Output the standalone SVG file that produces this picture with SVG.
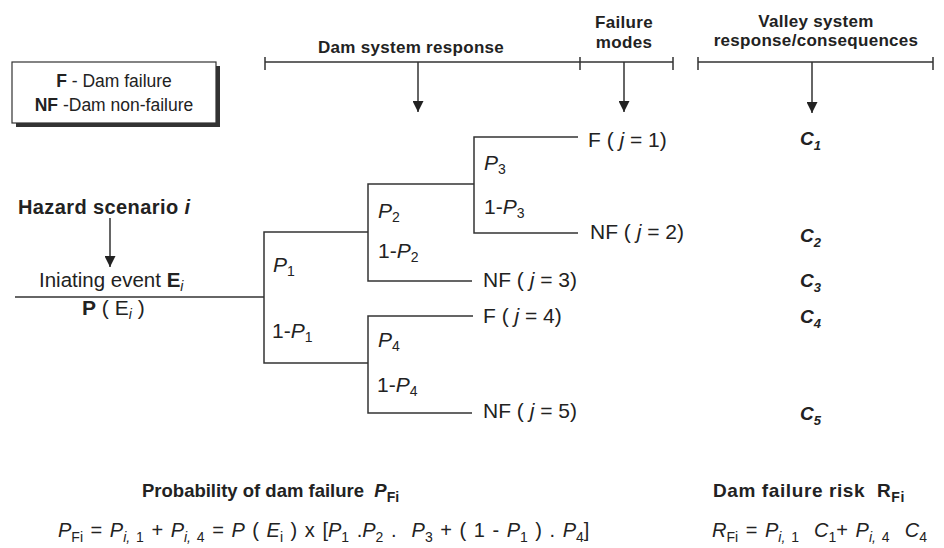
<svg xmlns="http://www.w3.org/2000/svg" width="944" height="548" viewBox="0 0 944 548">
<defs>
<marker id="ah" viewBox="0 0 10 10" refX="10" refY="5" markerWidth="11" markerHeight="11" markerUnits="userSpaceOnUse" orient="auto">
<path d="M0,0 L10,5 L0,10 Z" fill="#222"/>
</marker>
</defs>
<style>
text{font-family:"Liberation Sans",Arial,sans-serif;fill:#222;}
.ln{stroke:#333;stroke-width:1.5;fill:none;}
.arr{stroke:#333;stroke-width:1.5;fill:none;marker-end:url(#ah);}
.hd{font-weight:bold;font-size:17px;letter-spacing:0.3px;}
.lb{font-size:21px;}
.it{font-style:italic;}
.c{font-weight:bold;font-style:italic;font-size:19px;}
.sm{font-size:14px;}
.fm{font-size:20px;word-spacing:2px;}
</style>
<rect width="944" height="548" fill="#fff"/>

<g id="legend">
<rect x="16" y="66" width="204" height="61" fill="#333"/>
<rect x="12" y="62" width="204" height="61" fill="#fff" stroke="#333" stroke-width="1.2"/>
<text x="114" y="87" text-anchor="middle" font-size="17.5"><tspan font-weight="bold">F</tspan> - Dam failure</text>
<text x="114" y="111" text-anchor="middle" font-size="17.5"><tspan font-weight="bold">NF</tspan> -Dam non-failure</text>
</g>

<g id="headers">
<text class="hd" x="411" y="53" text-anchor="middle" font-size="18">Dam system response</text>
<text class="hd" x="624" y="28" text-anchor="middle">Failure</text>
<text class="hd" x="624" y="48" text-anchor="middle">modes</text>
<text class="hd" x="816" y="27" text-anchor="middle">Valley system</text>
<text class="hd" x="816" y="46" text-anchor="middle">response/consequences</text>
</g>

<g id="connectors">
<path class="ln" d="M265,62 H673 M265,57 V70 M580,57 V70 M673,57 V70"/>
<path class="ln" d="M698,62 H933 M698,57 V70 M933,57 V70"/>
<line class="arr" x1="418" y1="62" x2="418" y2="112"/>
<line class="arr" x1="624" y1="62" x2="624" y2="112"/>
<line class="arr" x1="812" y1="62" x2="812" y2="113"/>
<line class="arr" x1="110" y1="218" x2="110" y2="267"/>
<path class="ln" d="M15,297 H264"/>
<path class="ln" d="M368,232 H264 V363 H368"/>
<path class="ln" d="M474,184 H368 V281 H472"/>
<path class="ln" d="M578,137 H474 V233 H578"/>
<path class="ln" d="M473,316 H368 V413 H472"/>
</g>

<g id="hazard">
<text x="18" y="214" font-weight="bold" font-size="20" letter-spacing="0.4">Hazard scenario <tspan font-style="italic">i</tspan></text>
<text x="39" y="287" font-size="20.5">Iniating event <tspan font-weight="bold">E</tspan><tspan class="it sm" dy="4">i</tspan></text>
<text x="82" y="315" font-size="21"><tspan font-weight="bold">P</tspan> ( E<tspan class="it sm" dy="4">i</tspan><tspan dy="-4"> )</tspan></text>
</g>

<g id="branch-labels" class="lb">
<text x="273" y="272"><tspan class="it">P</tspan><tspan class="sm" dy="4">1</tspan></text>
<text x="272" y="338">1-<tspan class="it">P</tspan><tspan class="sm" dy="4">1</tspan></text>
<text x="378" y="218"><tspan class="it">P</tspan><tspan class="sm" dy="4">2</tspan></text>
<text x="378" y="258">1-<tspan class="it">P</tspan><tspan class="sm" dy="4">2</tspan></text>
<text x="484" y="170"><tspan class="it">P</tspan><tspan class="sm" dy="4">3</tspan></text>
<text x="484" y="214">1-<tspan class="it">P</tspan><tspan class="sm" dy="4">3</tspan></text>
<text x="378" y="347"><tspan class="it">P</tspan><tspan class="sm" dy="4">4</tspan></text>
<text x="377" y="392">1-<tspan class="it">P</tspan><tspan class="sm" dy="4">4</tspan></text>
</g>

<g id="outcomes" class="lb">
<text x="588" y="147">F ( <tspan class="it">j</tspan> = 1)</text>
<text x="590" y="239">NF ( <tspan class="it">j</tspan> = 2)</text>
<text x="483" y="287">NF ( <tspan class="it">j</tspan> = 3)</text>
<text x="483" y="323">F ( <tspan class="it">j</tspan> = 4)</text>
<text x="483" y="418">NF ( <tspan class="it">j</tspan> = 5)</text>
</g>

<g id="consequences">
<text class="c" x="800" y="145">C<tspan font-size="13" dy="5">1</tspan></text>
<text class="c" x="800" y="242">C<tspan font-size="13" dy="5">2</tspan></text>
<text class="c" x="800" y="287">C<tspan font-size="13" dy="5">3</tspan></text>
<text class="c" x="800" y="323">C<tspan font-size="13" dy="5">4</tspan></text>
<text class="c" x="800" y="420">C<tspan font-size="13" dy="5">5</tspan></text>
</g>

<g id="probability">
<text x="142" y="497" font-weight="bold" font-size="18.5">Probability of dam failure &#160;<tspan font-style="italic">P</tspan><tspan font-size="14" dy="5">Fi</tspan></text>
<text class="fm" x="58" y="537"><tspan class="it">P</tspan><tspan class="sm" dy="5">Fi</tspan><tspan dy="-5"> = </tspan><tspan class="it">P</tspan><tspan class="sm" dy="5"><tspan class="it">i,</tspan> 1</tspan><tspan dy="-5"> + </tspan><tspan class="it">P</tspan><tspan class="sm" dy="5"><tspan class="it">i,</tspan> 4</tspan><tspan dy="-5"> = </tspan><tspan class="it">P</tspan> ( <tspan class="it">E</tspan><tspan class="sm" dy="5">i</tspan><tspan dy="-5"> ) x [</tspan><tspan class="it">P</tspan><tspan class="sm" dy="5">1</tspan><tspan dy="-5"> .</tspan><tspan class="it">P</tspan><tspan class="sm" dy="5">2</tspan><tspan dy="-5"> . &#160;</tspan><tspan class="it">P</tspan><tspan class="sm" dy="5">3</tspan><tspan dy="-5"> + ( 1 - </tspan><tspan class="it">P</tspan><tspan class="sm" dy="5">1</tspan><tspan dy="-5"> ) . </tspan><tspan class="it">P</tspan><tspan class="sm" dy="5">4</tspan><tspan dy="-5">]</tspan></text>
</g>

<g id="risk">
<text x="713" y="497" font-weight="bold" font-size="19" letter-spacing="0.6">Dam failure risk &#160;R<tspan font-size="14" dy="5">Fi</tspan></text>
<text class="fm" x="712" y="537" word-spacing="5"><tspan class="it">R</tspan><tspan class="sm" dy="5">Fi</tspan><tspan dy="-5"> = </tspan><tspan class="it">P</tspan><tspan class="sm" dy="5"><tspan class="it">i,</tspan> 1</tspan><tspan dy="-5"> &#160;</tspan><tspan class="it">C</tspan><tspan class="sm" dy="5">1</tspan><tspan dy="-5">+ </tspan><tspan class="it">P</tspan><tspan class="sm" dy="5"><tspan class="it">i,</tspan> 4</tspan><tspan dy="-5"> &#160;</tspan><tspan class="it">C</tspan><tspan class="sm" dy="5">4</tspan></text>
</g>
</svg>
